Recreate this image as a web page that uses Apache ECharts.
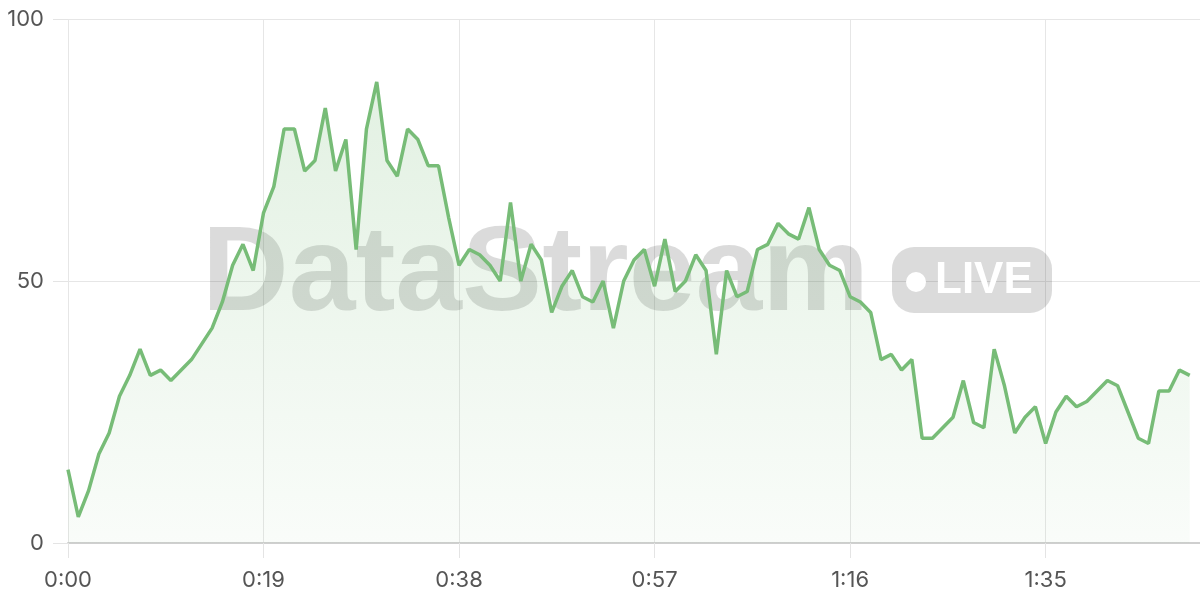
<!DOCTYPE html>
<html>
<head>
<meta charset="utf-8">
<style>
html,body{margin:0;padding:0;background:#fff;}
#chart{width:1200px;height:600px;}
</style>
<script src="https://cdn.jsdelivr.net/npm/echarts@6/dist/echarts.min.js"></script>
</head>
<body>
<div id="chart"></div>
<script>
// categories: seconds 0..110 formatted m:ss
const seconds = Array.from({length: 111}, (_, i) => i);
const categories = seconds.map(s => Math.floor(s / 60) + ':' + String(s % 60).padStart(2, '0'));

const values = [
  14, 5, 10, 17, 21, 28, 32, 37, 32, 33,
  31, 33, 35, 38, 41, 46, 53, 57, 52, 63,
  68, 79, 79, 71, 73, 83, 71, 77, 56, 79,
  88, 73, 70, 79, 77, 72, 72, 62, 53, 56,
  55, 53, 50, 65, 50, 57, 54, 44, 49, 52,
  47, 46, 50, 41, 50, 54, 56, 49, 58, 48,
  50, 55, 52, 36, 52, 47, 48, 56, 57, 61,
  59, 58, 64, 56, 53, 52, 47, 46, 44, 35,
  36, 33, 35, 20, 20, 22, 24, 31, 23, 22,
  37, 30, 21, 24, 26, 19, 25, 28, 26, 27,
  29, 31, 30, 25, 20, 19, 29, 29, 33, 32
];

const yTicks = [0, 50, 100];

const labelFont = 'Inter, "Liberation Sans", Arial, sans-serif';

const chart = echarts.init(document.getElementById('chart'), null, {renderer: 'canvas'});
chart.setOption({
  animation: false,
  backgroundColor: '#ffffff',
  grid: {left: 68, right: 0, top: 19, bottom: 57, containLabel: false},
  xAxis: {
    type: 'category',
    data: categories,
    boundaryGap: false,
    axisLine: {show: true, lineStyle: {color: '#cfcfcf', width: 2}},
    axisTick: {show: true, interval: 18, length: 15, lineStyle: {color: '#e4e4e4', width: 1}},
    axisLabel: {interval: 18, margin: 26, fontSize: 22, color: '#555', fontFamily: labelFont},
    splitLine: {show: true, interval: 18, lineStyle: {color: '#e6e6e6', width: 1}}
  },
  yAxis: {
    type: 'value',
    min: yTicks[0],
    max: yTicks[yTicks.length - 1],
    interval: 50,
    axisLine: {show: true, lineStyle: {color: 'rgba(0,0,0,0)'}},
    axisTick: {show: true, length: 15, lineStyle: {color: '#e4e4e4', width: 1}},
    axisLabel: {margin: 24, fontSize: 22, color: '#555', fontFamily: labelFont},
    splitLine: {show: true, lineStyle: {color: '#e6e6e6', width: 1}}
  },
  graphic: [
    {
      type: 'text', z: 1, silent: true,
      x: 202, y: 277,
      style: {
        text: 'DataStream',
        font: 'bold 120px "Liberation Sans", Arial, sans-serif',
        fill: 'rgba(0,0,0,0.14)',
        align: 'left', verticalAlign: 'middle'
      }
    },
    {
      type: 'rect', z: 1, silent: true,
      shape: {x: 892, y: 247, width: 160, height: 66, r: 22},
      style: {fill: 'rgba(0,0,0,0.14)'}
    },
    {
      type: 'circle', z: 1, silent: true,
      shape: {cx: 916, cy: 282, r: 10},
      style: {fill: '#ffffff'}
    },
    {
      type: 'text', z: 1, silent: true,
      x: 935, y: 281,
      style: {
        text: 'LIVE',
        font: 'bold 44px "Liberation Sans", Arial, sans-serif',
        fill: '#ffffff',
        align: 'left', verticalAlign: 'middle'
      }
    }
  ],
  series: [{
    type: 'line',
    data: values,
    smooth: false,
    showSymbol: false,
    z: 3,
    lineStyle: {color: '#77bc77', width: 3.5},
    itemStyle: {color: '#77bc77'},
    areaStyle: {
      color: new echarts.graphic.LinearGradient(0, 0, 0, 1, [
        {offset: 0, color: 'rgba(119,188,119,0.30)'},
        {offset: 1, color: 'rgba(119,188,119,0.06)'}
      ])
    }
  }]
});
</script>
</body>
</html>
